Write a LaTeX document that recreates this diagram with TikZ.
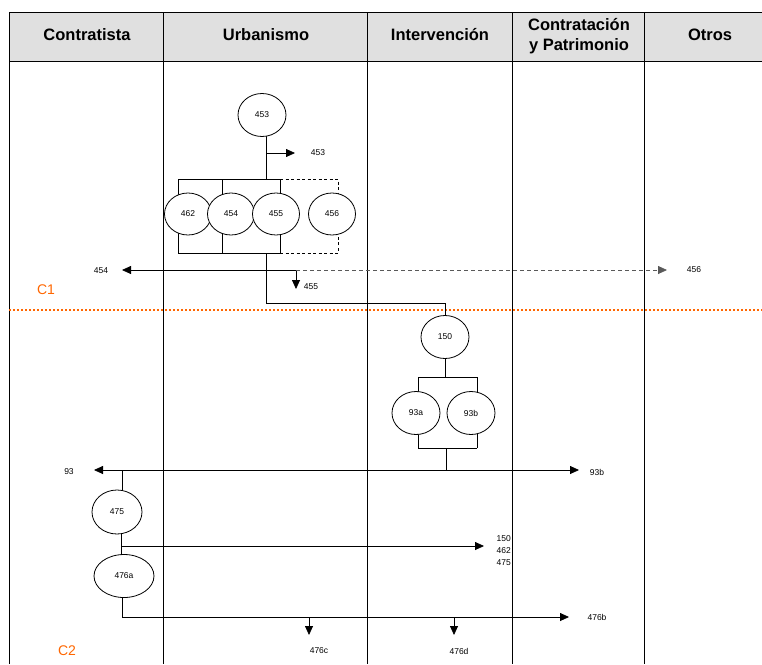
\documentclass[tikz,border=0pt]{standalone}
\usepackage{fontspec}
\setmainfont{Liberation Sans}
\usetikzlibrary{arrows.meta,shapes.geometric,backgrounds}
\definecolor{hdrgray}{RGB}{224,224,224}
\definecolor{cutorange}{RGB}{255,102,0}
\tikzset{
  proc/.style={ellipse,draw,fill=white,line width=0.8pt,minimum width=48pt,minimum height=43pt,inner sep=0pt,font=\fontsize{8.5}{9}\selectfont},
  lbl/.style={font=\fontsize{8.5}{12}\selectfont,inner sep=0pt},
  hdr/.style={font=\fontsize{16.5}{20}\selectfont\bfseries,align=center},
  wire/.style={line width=0.8pt},
  wired/.style={wire,dash pattern=on 3pt off 2.5pt},
  flow/.style={wire,-{Triangle[length=9pt,width=8pt]}},
  cut/.style={cutorange,line width=1.8pt,dash pattern=on 1.8pt off 2.2pt},
  phase/.style={text=cutorange,font=\fontsize{14}{16}\selectfont}
}

\begin{document}
\begin{tikzpicture}[x=1pt,y=-1pt]
			%%%%% START %%%%%
			\useasboundingbox (0,0) rectangle (762,664);
			
			% header
			\fill[hdrgray] (9,12) rectangle (762,61);
			\draw[line width=1pt] (9,12) -- (762,12) (9,61) -- (762,61);
			\foreach \x in {9,163,367,512,644}
				\draw[line width=1pt] (\x,12) -- (\x,664);
			
			\node[hdr] (hContr) at (87,35) {Contratista};
			\node[hdr] (hUrb) at (266,35) {Urbanismo};
			\node[hdr] (hInter) at (440,35) {Intervención};
			\node[hdr] (hPatr) at (579,36) {Contratación\\y Patrimonio};
			\node[hdr] (hOtros) at (710,35) {Otros};
			
			% C1 / C2
			\node[phase] (c1) at (46,290) {C1};
			\node[phase] (c2) at (67,651) {C2};
			\draw[cut] (9,310) -- (762,310);
			
			% Urbanismo
			\node[proc] (n453) at (262,115) {453};
			\node[proc,minimum width=47pt,minimum height=42pt] (n462) at (188,214) {462};
			\node[proc,minimum width=47pt,minimum height=42pt] (n454) at (231,214) {454};
			\node[proc,minimum width=47pt,minimum height=42pt] (n455) at (276,214) {455};
			\node[proc,minimum width=47pt,minimum height=42pt] (n456) at (332,214) {456};
			
			\coordinate (j453) at (266,179);
			\coordinate (t462) at (178,179);
			\coordinate (t454) at (222,179);
			\coordinate (t455) at (280,179);
			\coordinate (t456) at (338,179);
			\coordinate (u462) at (178,253);
			\coordinate (u454) at (222,253);
			\coordinate (u455) at (280,253);
			\coordinate (u456) at (338,253);
			\coordinate (k1) at (266,253);
			\coordinate (k2) at (266,303);
			\coordinate (a453) at (266,153);
			\coordinate (e453) at (295,153);
			
			\begin{scope}[on background layer]
				\draw[wire] (j453) -- (j453 |- n453.center);
				\foreach \n in {462,454,455}{
					\draw[wire] (t\n) -- (t\n |- n\n.center);
					\draw[wire] (u\n) -- (u\n |- n\n.center);
				}
				\draw[wired] (t455) -- (t456) -- (t456 |- n456.center);
				\draw[wired] (u455) -- (u456) -- (u456 |- n456.center);
			\end{scope}
			\draw[wire] (t462) -- (t455);
			\draw[wire] (u462) -- (u455);
			\draw[flow] (a453) -- (e453);
			\node[lbl] (l453) at (318,153) {453};
			
			% Intervencion
			\node[proc] (n150) at (445,337) {150};
			\node[proc] (n93a) at (416,413) {93a};
			\node[proc] (n93b) at (471,413) {93b};
			\coordinate (j150) at (445,377);
			\coordinate (t93a) at (418,377);
			\coordinate (t93b) at (477,377);
			\coordinate (u93a) at (418,448);
			\coordinate (u93b) at (477,448);
			\coordinate (j93) at (446,448);
			\coordinate (s93) at (446,470);
			\begin{scope}[on background layer]
				\draw[wire] (n150) -- (j150);
				\draw[wire] (t93a) -- (t93a |- n93a.center);
				\draw[wire] (t93b) -- (t93b |- n93b.center);
				\draw[wire] (u93a) -- (u93a |- n93a.center);
				\draw[wire] (u93b) -- (u93b |- n93b.center);
			\end{scope}
			\draw[wire] (t93a) -- (t93b);
			\draw[wire] (u93a) -- (u93b);
			\draw[wire] (j93) -- (s93);
			
			\draw[wire] (k1) -- (k2) -| (n150.north);
			
			% salidas C1
			\coordinate (s455) at (296,270);
			\coordinate (e454) at (122,270);
			\coordinate (e455) at (296,289);
			\coordinate (e456) at (667,270);
			\draw[flow] (s455) -- (e454);
			\draw[flow] (s455) -- (e455);
			\draw[flow,dash pattern=on 4pt off 3pt,draw=black!65] (s455) -- (e456);
			\node[lbl] (l454) at (101,271) {454};
			\node[lbl] (l455) at (311,287) {455};
			\node[lbl] (l456) at (694,270) {456};
			
			% C2
			\coordinate (e93) at (94,470);
			\coordinate (e93b) at (579,470);
			\draw[flow] (s93) -- (e93);
			\draw[flow] (s93) -- (e93b);
			\node[lbl] (l93) at (69,472) {93};
			\node[lbl] (l93b) at (597,472) {93b};
			
			\node[proc,minimum width=50pt,minimum height=44pt] (n475) at (117,512) {475};
			\node[proc,minimum width=60pt,minimum height=43pt] (n476a) at (124,576) {476a};
			\coordinate (j475) at (122,470);
			\coordinate (j476) at (121,546);
			\coordinate (j477) at (122,617);
			\begin{scope}[on background layer]
				\draw[wire] (j475) -- (j475 |- n475.center);
				\draw[wire] (j476 |- n475.center) -- (j476 |- n476a.center);
				\draw[wire] (j477) -- (j477 |- n476a.center);
			\end{scope}
			
			\coordinate (e150) at (484,546);
			\coordinate (e476b) at (569,617);
			\draw[flow] (j476) -- (e150);
			\draw[flow] (j477) -- (e476b);
			\node[lbl,anchor=east,align=right] (l150) at (511,551) {150\\462\\475};
			\node[lbl] (l476b) at (597,617) {476b};
			
			\coordinate (s476c) at (309,617);
			\coordinate (e476c) at (309,635);
			\coordinate (s476d) at (454,617);
			\coordinate (e476d) at (454,635);
			\draw[flow] (s476c) -- (e476c);
			\draw[flow] (s476d) -- (e476d);
			\node[lbl] (l476c) at (319,651) {476c};
			\node[lbl] (l476d) at (459,651) {476d};
			
			%%%%% END %%%%%
\end{tikzpicture}
\end{document}
